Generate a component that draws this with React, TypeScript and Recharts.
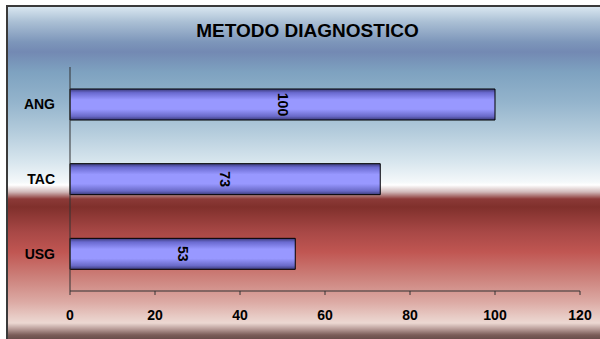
import React from 'react';
import { BarChart, Bar, XAxis, YAxis, LabelList } from 'recharts';

const categories = ['ANG', 'TAC', 'USG'];
const values = [100, 73, 53];
const xTicks = [0, 20, 40, 60, 80, 100, 120];
const title = 'METODO DIAGNOSTICO';

const data = categories.map((name, i) => ({ name, value: values[i] }));

const FONT = '"Liberation Sans", Arial, Helvetica, sans-serif';

// background gradient stops (px from top of the frame, which starts at y=5)
const bgStops: [string, number][] = [
  ['#d8e6f0', 0],
  ['#aabfd4', 15],
  ['#7d96ba', 35],
  ['#7389b3', 45],
  ['#7ea2c0', 65],
  ['#94b4cc', 95],
  ['#b4ccdc', 125],
  ['#d8e6ee', 155],
  ['#f4f8fa', 175],
  ['#ffffff', 178],
  ['#d0b8b8', 185],
  ['#8c3a38', 192],
  ['#80302c', 200],
  ['#a84846', 225],
  ['#c05652', 245],
  ['#cc807a', 270],
  ['#dcaaa4', 295],
  ['#e8ccc6', 310],
  ['#ecd8d2', 316],
  ['#b89c98', 322],
  ['#7a5c58', 328],
  ['#604644', 334],
];
const bg = `linear-gradient(to bottom, ${bgStops.map(([c, p]) => `${c} ${p}px`).join(', ')})`;

const renderLabel = (props: any) => {
  const { x, y, width, height, value } = props;
  const cx = Number(x) + Number(width) / 2;
  const cy = Number(y) + Number(height) / 2;
  return (
    <text
      x={cx}
      y={cy}
      transform={`rotate(90 ${cx} ${cy})`}
      textAnchor="middle"
      dominantBaseline="central"
      fontFamily={FONT}
      fontWeight="bold"
      fontSize={14}
      fill="#000"
    >
      {value}
    </text>
  );
};

export default function App() {
  return (
    <div style={{ position: 'absolute', left: 0, top: 0, width: 600, height: 339, background: '#fff', overflow: 'hidden' }}>
      <div
        style={{
          position: 'absolute',
          left: 6,
          top: 5,
          width: 594,
          height: 334,
          boxSizing: 'border-box',
          borderLeft: '2px solid #3a3a3a',
          borderTop: '2px solid #3a3a3a',
          background: bg,
        }}
      />
      <div style={{ position: 'absolute', left: 0, top: 0 }}>
        <BarChart
          width={600}
          height={339}
          data={data}
          layout="vertical"
          margin={{ top: 67, right: 20, bottom: 0, left: 0 }}
        >
          <defs>
            <linearGradient id="barGrad" x1="0" y1="0" x2="0" y2="1">
              <stop offset="0%" stopColor="#3a3a78" />
              <stop offset="12%" stopColor="#6a6ad0" />
              <stop offset="35%" stopColor="#9898ff" />
              <stop offset="65%" stopColor="#9898ff" />
              <stop offset="88%" stopColor="#6a6ac8" />
              <stop offset="100%" stopColor="#3a3a78" />
            </linearGradient>
          </defs>
          <XAxis
            type="number"
            domain={[0, 120]}
            ticks={xTicks}
            interval={0}
            height={48}
            tickSize={4}
            tickMargin={15}
            axisLine={{ stroke: '#333' }}
            tickLine={{ stroke: '#333' }}
            tick={{ fill: '#000', fontSize: 14, fontWeight: 'bold', fontFamily: FONT }}
          />
          <YAxis
            type="category"
            dataKey="name"
            width={70}
            tickLine={false}
            tickSize={6}
            tickMargin={9}
            axisLine={{ stroke: '#333' }}
            tick={{ fill: '#000', fontSize: 14, fontWeight: 'bold', fontFamily: FONT }}
          />
          <Bar
            dataKey="value"
            barSize={31}
            fill="url(#barGrad)"
            stroke="#000"
            strokeWidth={1}
            isAnimationActive={false}
          >
            <LabelList dataKey="value" content={renderLabel} />
          </Bar>
        </BarChart>
      </div>
      <svg width={600} height={339} style={{ position: 'absolute', left: 0, top: 0, pointerEvents: 'none' }}>
        <text
          x={307.5}
          y={36.7}
          textAnchor="middle"
          fontFamily={FONT}
          fontWeight="bold"
          fontSize={19}
          fill="#000"
        >
          {title}
        </text>
      </svg>
    </div>
  );
}
